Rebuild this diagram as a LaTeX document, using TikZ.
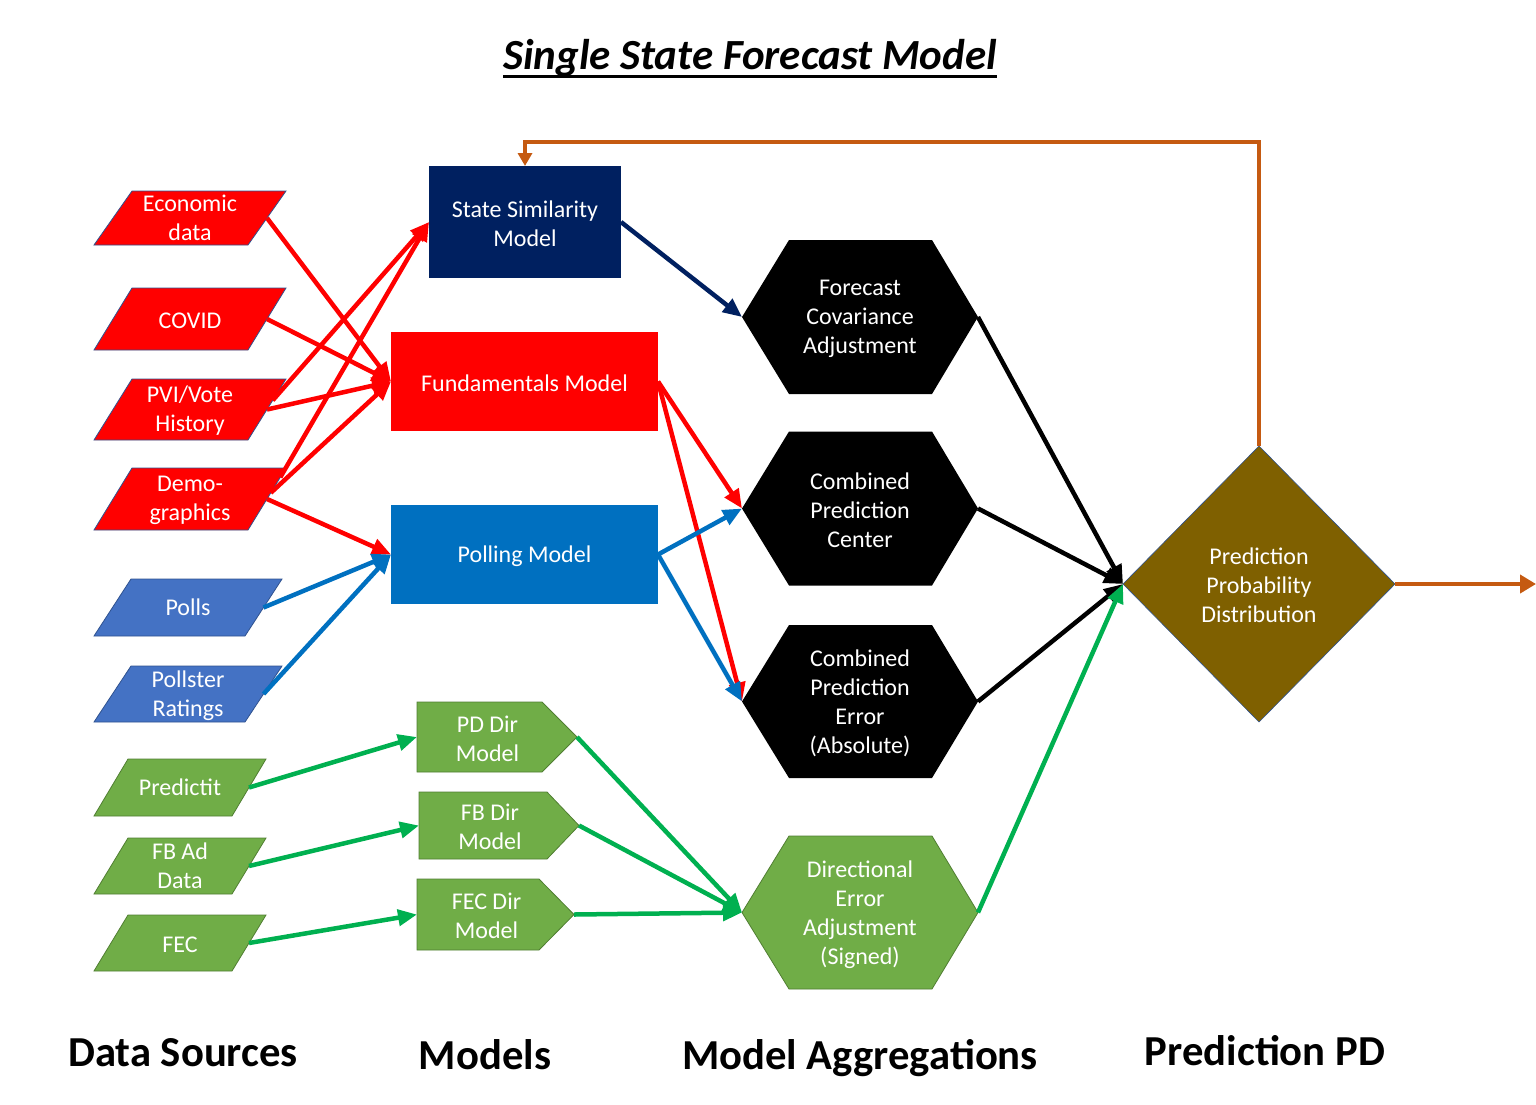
\documentclass[tikz,border=0pt]{standalone}
\usepackage{fontspec}
\setmainfont{Carlito}
\usetikzlibrary{arrows.meta,calc,shapes.geometric}
\pgfdeclarelayer{bg}
\pgfsetlayers{bg,main}
\definecolor{cRed}{HTML}{FF0000}
\definecolor{cNavy}{HTML}{002060}
\definecolor{cBlueR}{HTML}{0070C0}
\definecolor{cBlueP}{HTML}{4472C4}
\definecolor{cGreen}{HTML}{70AD47}
\definecolor{cGreenL}{HTML}{507E32}
\definecolor{cGreenA}{HTML}{00B050}
\definecolor{cOutB}{HTML}{2F528F}
\definecolor{cOrange}{HTML}{C55A11}
\definecolor{cBrown}{HTML}{7F6000}
\newcommand\fsz{\fontsize{24}{29}\selectfont}
\newsavebox\ttlbox
\newcommand\parashape[3]{%
  \coordinate (#1-br) at ($(#1.south east)-(#2,0)$);
  \begin{pgfonlayer}{bg}
  \path[#3] ($(#1.north west)+(#2,0)$) -- (#1.north east) -- (#1-br) -- (#1.south west) -- cycle;
  \end{pgfonlayer}}
\newcommand\hexshape[2]{%
  \begin{pgfonlayer}{bg}
  \path[#2] ($(#1.north west)+(47,0)$) -- ($(#1.north east)-(46,0)$) -- (#1.east) -- ($(#1.south east)-(46,0)$) -- ($(#1.south west)+(47,0)$) -- (#1.west) -- cycle;
  \end{pgfonlayer}}
\newcommand\pentshape[3]{%
  \begin{pgfonlayer}{bg}
  \path[#3] (#1.north west) -- ($(#1.north east)-(#2,0)$) -- (#1.east) -- ($(#1.south east)-(#2,0)$) -- (#1.south west) -- cycle;
  \end{pgfonlayer}}
\tikzset{
  box/.style={rectangle, inner sep=0pt, outer sep=0pt},
  tx/.style={font=\fsz, text=white, align=center, yshift=-1.8pt},
  redfill/.style={fill=cRed, draw=cOutB, line width=0.8pt},
  bluefill/.style={fill=cBlueP, draw=cOutB, line width=0.8pt},
  greenfill/.style={fill=cGreen, draw=cGreenL, line width=0.8pt},
  hexfill/.style={fill=black},
  arr/.style={line width=4.5pt, -{Triangle[length=19pt,width=16pt]}},
  orangeline/.style={draw=cOrange, line width=4.5pt},
  lbl/.style={anchor=base, font=\fontsize{42.7}{50}\selectfont\bfseries, text=black}
}
\begin{document}
\begin{tikzpicture}[x=1pt,y=-1pt]
\useasboundingbox (0,0) rectangle (1536,1104);
% title
\node[anchor=base, inner sep=0pt] (title) at (750,69) {\sbox\ttlbox{\fontsize{43}{50}\selectfont\bfseries\itshape Single State Forecast Model}\usebox\ttlbox\llap{\rule[-9pt]{\wd\ttlbox}{3pt}}};
% data sources
\node[box, minimum width=192pt, minimum height=54pt, label={[tx, yshift=1.8pt]center:{Economic\\data}}] (eco) at (190,218) {};
\parashape{eco}{38}{redfill}
\node[box, minimum width=192pt, minimum height=62pt, label={[tx]center:COVID}] (covid) at (190,319) {};
\parashape{covid}{38}{redfill}
\node[box, minimum width=192pt, minimum height=61pt, label={[tx, yshift=0.8pt]center:{PVI/Vote\\History}}] (pvi) at (190,409.5) {};
\parashape{pvi}{38}{redfill}
\node[box, minimum width=192pt, minimum height=62pt, label={[tx]center:{Demo-\\graphics}}] (demo) at (190,499) {};
\parashape{demo}{38}{redfill}
\node[box, minimum width=188pt, minimum height=57pt, label={[tx, yshift=1.8pt]center:Polls}] (polls) at (188,607.5) {};
\parashape{polls}{37}{bluefill}
\node[box, minimum width=188pt, minimum height=56pt, label={[tx]center:{Pollster\\Ratings}}] (pollster) at (188,694) {};
\parashape{pollster}{37}{bluefill}
\node[box, minimum width=172pt, minimum height=57pt, label={[tx, yshift=1.8pt]center:Predictit}] (predictit) at (180,787.5) {};
\parashape{predictit}{34}{greenfill}
\node[box, minimum width=172pt, minimum height=56pt, label={[tx, yshift=1.8pt]center:{FB Ad\\Data}}] (fbad) at (180,866) {};
\parashape{fbad}{34}{greenfill}
\node[box, minimum width=172pt, minimum height=56pt, label={[tx]center:FEC}] (fec) at (180,943) {};
\parashape{fec}{34}{greenfill}
% models
\node[box, fill=cNavy, minimum width=192pt, minimum height=112pt, label={[tx]center:{State Similarity\\Model}}] (ss) at (525,222) {};
\node[box, fill=cRed, minimum width=267pt, minimum height=99pt, label={[tx]center:Fundamentals Model}] (fund) at (524.5,381.5) {};
\node[box, fill=cBlueR, minimum width=267pt, minimum height=99pt, label={[tx]center:Polling Model}] (poll) at (524.5,554.5) {};
\node[box, minimum width=160pt, minimum height=70pt, label={[tx, xshift=-9.5pt]center:{PD Dir\\Model}}] (pd) at (497,737) {};
\pentshape{pd}{35}{greenfill}
\node[box, minimum width=160pt, minimum height=67pt, label={[tx, xshift=-9pt]center:{FB Dir\\Model}}] (fb) at (499,825.5) {};
\pentshape{fb}{32}{greenfill}
\node[box, minimum width=157pt, minimum height=71pt, label={[tx, xshift=-9pt]center:{FEC Dir\\Model}}] (fecd) at (495.5,914.5) {};
\pentshape{fecd}{35}{greenfill}
% aggregations
\node[box, minimum width=236pt, minimum height=154pt, label={[tx]center:{Forecast\\Covariance\\Adjustment}}] (fca) at (860,317) {};
\hexshape{fca}{hexfill}
\node[box, minimum width=236pt, minimum height=154pt, label={[tx]center:{Combined\\Prediction\\Center}}] (cpc) at (860,508.5) {};
\hexshape{cpc}{hexfill}
\node[box, minimum width=236pt, minimum height=153pt, label={[tx]center:{Combined\\Prediction\\Error\\(Absolute)}}] (cpe) at (860,701.5) {};
\hexshape{cpe}{hexfill}
\node[box, minimum width=236pt, minimum height=153pt, label={[tx]center:{Directional\\Error\\Adjustment\\(Signed)}}] (dea) at (860,912.5) {};
\hexshape{dea}{greenfill}
% prediction
\node[diamond, inner sep=0pt, outer sep=0pt, minimum width=272pt, minimum height=276pt, fill=cBrown, draw=cOutB, line width=0.6pt, label={[tx, yshift=0.8pt]center:{Prediction\\Probability\\Distribution}}] (pp) at (1259,584) {};
% bottom labels
\node[lbl] (l1) at (183,1066) {Data Sources};
\node[lbl] (l2) at (485,1069) {Models};
\node[lbl] (l3) at (860,1069) {Model Aggregations};
\node[lbl] (l4) at (1265,1065) {Prediction PD};
% coordinates
\coordinate (top) at (0,142);
\coordinate (out) at (1536,584);
% red connectors
\draw[arr, cRed] ($(eco.north east)!0.5!(eco-br)$) -- (fund.west);
\draw[arr, cRed] ($(covid.north east)!0.5!(covid-br)$) -- (fund.west);
\draw[arr, cRed] ($(pvi.north east)!0.5!(pvi-br)$) -- (fund.west);
\draw[arr, cRed] ($(pvi.north east)!0.35!(pvi-br)$) -- (ss.west);
\draw[arr, cRed] ($(demo.north east)!0.15!(demo-br)$) -- (ss.west);
\draw[arr, cRed] ($(demo.north east)!0.4!(demo-br)$) -- (fund.west);
\draw[arr, cRed] ($(demo.north east)!0.5!(demo-br)$) -- (poll.west);
% blue connectors
\draw[arr, cBlueR] ($(polls.north east)!0.5!(polls-br)$) -- (poll.west);
\draw[arr, cBlueR] ($(pollster.north east)!0.5!(pollster-br)$) -- (poll.west);
% green connectors
\draw[arr, cGreenA] ($(predictit.north east)!0.5!(predictit-br)$) -- (pd.west);
\draw[arr, cGreenA] ($(fbad.north east)!0.5!(fbad-br)$) -- (fb.west);
\draw[arr, cGreenA] ($(fec.north east)!0.5!(fec-br)$) -- (fecd.west);
\draw[arr, cGreenA] (pd.east) -- (dea.west);
\draw[arr, cGreenA] (fb.east) -- (dea.west);
\draw[arr, cGreenA] (fecd.east) -- (dea.west);
% model to aggregation
\draw[arr, cNavy] (ss.east) -- (fca.west);
\draw[arr, cRed] (fund.east) -- (cpc.west);
\draw[arr, cRed] (fund.east) -- (cpe.west);
\draw[arr, cBlueR] (poll.east) -- (cpc.west);
\draw[arr, cBlueR] (poll.east) -- (cpe.west);
% aggregation to prediction
\draw[arr, black] (fca.east) -- (pp.west);
\draw[arr, black] (cpc.east) -- (pp.west);
\draw[arr, black] (cpe.east) -- (pp.west);
\draw[arr, cGreenA] (dea.east) -- (pp.west);
% feedback and output
\draw[orangeline, -{Triangle[length=13pt,width=14pt]}] (pp.north) -- (pp.north |- top) -- (ss.north |- top) -- (ss.north);
\draw[orangeline, -{Triangle[length=16pt,width=18pt]}] (pp.east) -- (out);
\end{tikzpicture}
\end{document}
